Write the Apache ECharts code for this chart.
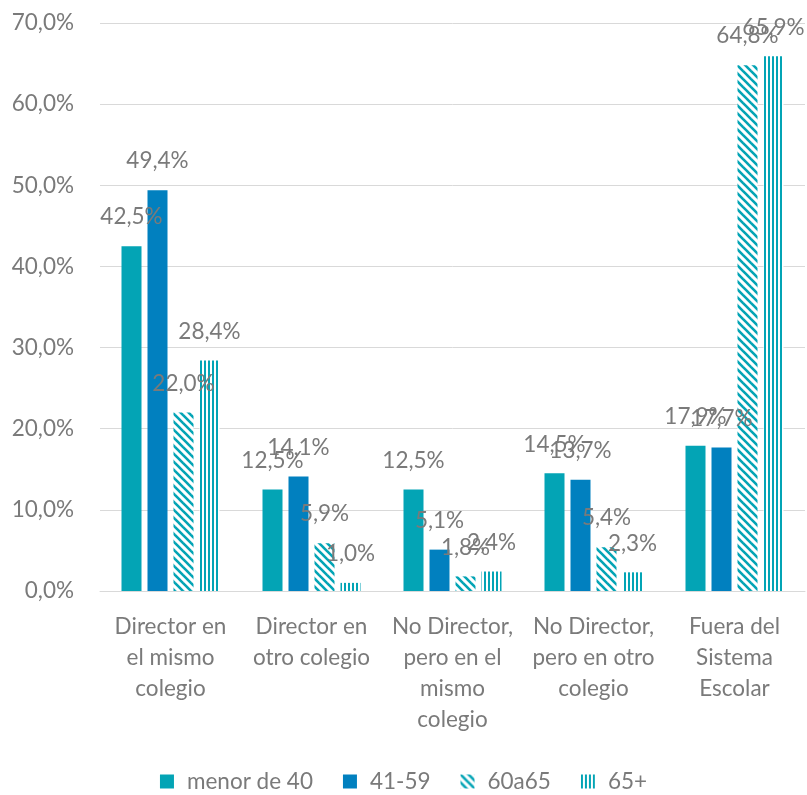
<!DOCTYPE html>
<html lang="es">
<head>
    <meta charset="UTF-8">
    <title>Destino por edad</title>
    <script src="https://cdn.jsdelivr.net/npm/echarts@6/dist/echarts.min.js"></script>
    <style>
        html, body { margin: 0; padding: 0; background: #fff; }
        #chart { width: 807px; height: 795px; }
    </style>
</head>
<body>
<div id="chart"></div>
<script>
    // categorias del eje x
    var categorias = [
        'Director en\nel mismo\ncolegio',
        'Director en\notro colegio',
        'No Director,\npero en el\nmismo\ncolegio',
        'No Director,\npero en otro\ncolegio',
        'Fuera del\nSistema\nEscolar'
    ]
    var nombresSeries = ['menor de 40', '41-59', '60a65', '65+']
    var menor40 = [42.5, 12.5, 12.5, 14.5, 17.9]
    var de41a59 = [49.4, 14.1, 5.1, 13.7, 17.7]
    var de60a65 = [22.0, 5.9, 1.8, 5.4, 64.8]
    var mas65 = [28.4, 1.0, 2.4, 2.3, 65.9]
    var ticksY = [0, 10, 20, 30, 40, 50, 60, 70]

    var teal = '#03A4B5'
    var azul = '#0180BF'
    var gris = '#7a7a7a'
    var fuente = 'Lato'
    var tam = 22.5

    // patron de rayas diagonales
    function patronDiagonal () {
        var c = document.createElement('canvas')
        c.width = 8
        c.height = 8
        var ctx = c.getContext('2d')
        ctx.fillStyle = '#fff'
        ctx.fillRect(0, 0, 8, 8)
        ctx.strokeStyle = teal
        ctx.lineWidth = 2.6
        ;[-8, 0, 8].forEach(function (k) {
            ctx.beginPath()
            ctx.moveTo(k - 1, -1)
            ctx.lineTo(k + 9, 9)
            ctx.stroke()
        })
        return c
    }

    // patron de rayas verticales
    function patronVertical () {
        var c = document.createElement('canvas')
        c.width = 4
        c.height = 4
        var ctx = c.getContext('2d')
        ctx.fillStyle = '#fff'
        ctx.fillRect(0, 0, 4, 4)
        ctx.fillStyle = teal
        ctx.fillRect(0, 0, 2, 4)
        return c
    }

    function fmt (v) {
        return v.toFixed(1).replace('.', ',') + '%'
    }

    var etiqueta = {
        show: true,
        position: 'top',
        distance: 16,
        color: gris,
        fontFamily: fuente,
        fontSize: tam,
        lineHeight: 26,
        formatter: function (p) { return fmt(p.value) }
    }

    var chart = echarts.init(document.getElementById('chart'))
    var option = {
        backgroundColor: '#fff',
        animation: false,
        grid: {
            left: 100,
            right: 2,
            top: 23,
            bottom: 204
        },
        legend: {
            bottom: 2,
            padding: 0,
            left: 'center',
            itemWidth: 14,
            itemHeight: 14,
            itemGap: 30,
            icon: 'rect',
            textStyle: { color: gris, fontFamily: fuente, fontSize: tam, padding: [0, 0, 0, 8] },
            data: nombresSeries
        },
        xAxis: {
            type: 'category',
            data: categorias,
            axisLine: { lineStyle: { color: '#d9d9d9' } },
            axisTick: { show: false },
            axisLabel: {
                color: gris,
                fontFamily: fuente,
                fontSize: tam,
                lineHeight: 31,
                margin: 20,
                interval: 0
            }
        },
        yAxis: {
            type: 'value',
            min: ticksY[0],
            max: ticksY[ticksY.length - 1],
            interval: 10,
            axisLine: { show: false },
            axisTick: { show: false },
            splitLine: { lineStyle: { color: '#d9d9d9' } },
            axisLabel: {
                color: gris,
                fontFamily: fuente,
                fontSize: tam,
                margin: 26,
                formatter: fmt
            }
        },
        series: [{
            name: nombresSeries[0],
            type: 'bar',
            barWidth: 20,
            barGap: '30%',
            itemStyle: { color: teal },
            label: etiqueta,
            data: menor40
        }, {
            name: nombresSeries[1],
            type: 'bar',
            barWidth: 20,
            barGap: '30%',
            itemStyle: { color: azul },
            label: etiqueta,
            data: de41a59
        }, {
            name: nombresSeries[2],
            type: 'bar',
            barWidth: 20,
            barGap: '30%',
            itemStyle: { color: { image: patronDiagonal(), repeat: 'repeat' } },
            label: etiqueta,
            data: de60a65
        }, {
            name: nombresSeries[3],
            type: 'bar',
            barWidth: 20,
            barGap: '30%',
            itemStyle: { color: { image: patronVertical(), repeat: 'repeat' } },
            label: etiqueta,
            data: mas65
        }]
    }
    chart.setOption(option)
</script>
</body>
</html>
